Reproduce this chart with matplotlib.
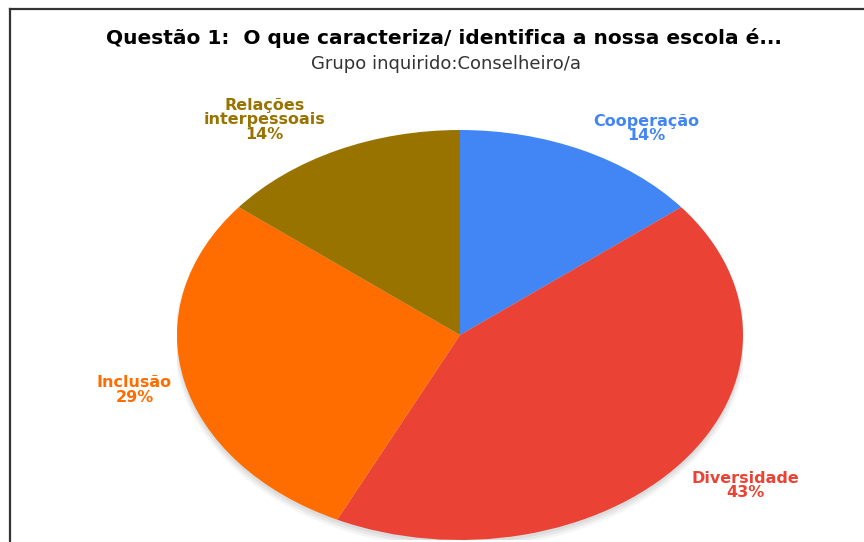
import numpy as np
import matplotlib
matplotlib.use("Agg")
import matplotlib.pyplot as plt
from matplotlib.lines import Line2D
from matplotlib.patches import Ellipse

categories = ["Cooperação", "Diversidade", "Inclusão", "Relações\ninterpessoais"]
counts = [1, 3, 2, 1]
colors = ["#4285F4", "#EA4335", "#FF6D01", "#997300"]
title = "Questão 1:  O que caracteriza/ identifica a nossa escola é..."
subtitle = "Grupo inquirido:Conselheiro/a"

W, H = 864, 542
fig = plt.figure(figsize=(W / 100, H / 100), dpi=100)
fig.patch.set_facecolor("white")

# pie box in pixels: center (460, 335), rx 283, ry 205
cx, cy, rx, ry = 460, 335, 283, 205
ax = fig.add_axes([(cx - rx) / W, (H - cy - ry) / H, 2 * rx / W, 2 * ry / H])

# soft shadow
for i, a in enumerate([0.05, 0.05, 0.04]):
    ax.add_patch(Ellipse((0.0, -0.015 - 0.008 * i), 2.0 + 0.01 * i, 2.0 + 0.01 * i,
                         facecolor="black", alpha=a, edgecolor="none", zorder=0))

wedges, _ = ax.pie(counts, colors=colors, startangle=90, counterclock=False,
                   radius=1.0, wedgeprops=dict(linewidth=0, zorder=2))
ax.set_aspect("auto")
ax.set_xlim(-1, 1)
ax.set_ylim(-1, 1)
ax.axis("off")

total = sum(counts)
pcts = [round(100 * c / total) for c in counts]
for w, cat, p, col in zip(wedges, categories, pcts, colors):
    ang = np.deg2rad((w.theta1 + w.theta2) / 2)
    c, s = np.cos(ang), np.sin(ang)
    ha = "left" if c > 0 else "right"
    dx = 10 if c > 0 else -12
    nlines = cat.count("\n") + 2
    dy = 24 * s + (9 if nlines > 2 else 0)
    if s < -0.5:
        dy -= 8
    if abs(s) < 0.5:
        dy -= 4
    ax.annotate(f"{cat}\n{p}%", xy=(c, s), xytext=(dx, dy), textcoords="offset pixels",
                ha=ha, va="center", ma="center", color=col, fontsize=11.5,
                fontweight="bold", family="DejaVu Sans", linespacing=0.95,
                annotation_clip=False)

fig.text(444 / W, 1 - 38 / H, title, ha="center", va="center", fontsize=14.5,
         fontweight="bold", family="DejaVu Sans", color="black")
fig.text(446 / W, 1 - 64 / H, subtitle, ha="center", va="center", fontsize=13,
         family="DejaVu Sans", color="#333333")

# frame lines (top and left)
fig.add_artist(Line2D([10 / W, 1.0], [1 - 9 / H, 1 - 9 / H], color="#333333", lw=1.6))
fig.add_artist(Line2D([10 / W, 10 / W], [0, 1 - 9 / H], color="#333333", lw=1.6))

fig.savefig("out.png", dpi=100, facecolor="white")
